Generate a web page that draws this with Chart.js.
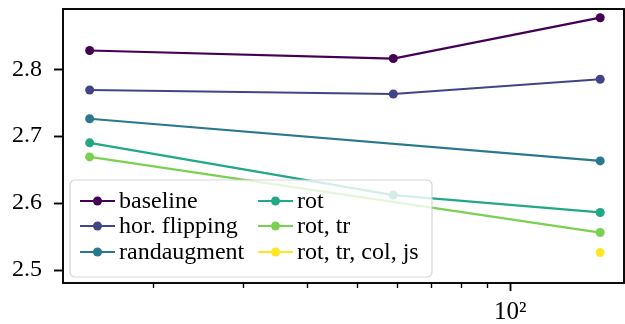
<!DOCTYPE html>
<html>
<head>
<meta charset="utf-8">
<script src="https://cdn.jsdelivr.net/npm/chart.js@4/dist/chart.umd.min.js"></script>
<style>
  html, body { margin: 0; padding: 0; background: #fff; }
  #wrap { width: 625px; height: 324px; }
</style>
</head>
<body>
<div id="wrap"><canvas id="chart" width="625" height="324"></canvas></div>
<script>
// data
const xValues = [15, 59, 150];
const baseline = [2.828, 2.816, 2.877];
const horFlipping = [2.769, 2.763, 2.785];
const randaugment = [2.726, null, 2.663];
const rot = [2.690, 2.612, 2.586];
const rotTr = [2.669, null, 2.556];
const rotTrColJs = [null, null, 2.526];

const labels = ['baseline', 'hor. flipping', 'randaugment', 'rot', 'rot, tr', 'rot, tr, col, js'];
const colors = ['#440154', '#414487', '#2a788e', '#22a884', '#7ad151', '#fde725'];
const series = [baseline, horFlipping, randaugment, rot, rotTr, rotTrColJs];

const yTicks = [2.5, 2.6, 2.7, 2.8];
const xMajorTicks = [100];
const xMinorTicks = [20, 30, 40, 50, 60, 70, 80, 90];

const FONT = '"Liberation Serif", "Times New Roman", serif';

function toPoints(ys) {
    const pts = [];
    ys.forEach((y, i) => {
        if (y !== null) pts.push({ x: xValues[i], y: y });
    });
    return pts;
}

const datasets = series.map((s, i) => ({
    label: labels[i],
    data: toPoints(s),
    borderColor: colors[i],
    backgroundColor: colors[i],
    borderWidth: 2.2,
    pointRadius: 4.5,
    pointHoverRadius: 4.5,
    pointBorderWidth: 0,
    fill: false,
    tension: 0
}));

// frame, minor ticks and the in-axes legend
const decor = {
    id: 'decor',
    afterDatasetsDraw(chart) {
        const ctx = chart.ctx;
        const a = chart.chartArea;

        // legend box
        const bx = a.left + 7, by = a.bottom - 103, bw = 362, bh = 97;
        ctx.save();
        ctx.beginPath();
        ctx.roundRect(bx, by, bw, bh, 5);
        ctx.fillStyle = 'rgba(255,255,255,0.8)';
        ctx.fill();
        ctx.strokeStyle = 'rgba(204,204,204,0.8)';
        ctx.lineWidth = 1.2;
        ctx.stroke();

        ctx.font = '24px ' + FONT;
        ctx.textBaseline = 'alphabetic';
        ctx.textAlign = 'left';
        const rowY = [by + 21, by + 46, by + 72];
        const colX = [bx + 10, bx + 188];
        labels.forEach((lab, i) => {
            const c = Math.floor(i / 3), r = i % 3;
            const hx = colX[c], hy = rowY[r];
            ctx.strokeStyle = colors[i];
            ctx.lineWidth = 2.2;
            ctx.beginPath();
            ctx.moveTo(hx, hy);
            ctx.lineTo(hx + 35, hy);
            ctx.stroke();
            ctx.fillStyle = colors[i];
            ctx.beginPath();
            ctx.arc(hx + 17.5, hy, 4.5, 0, Math.PI * 2);
            ctx.fill();
            ctx.fillStyle = '#000';
            ctx.fillText(lab, hx + 39, hy + 7);
        });
        ctx.restore();
    },
    afterDraw(chart) {
        const ctx = chart.ctx;
        const a = chart.chartArea;
        const xs = chart.scales.x;
        ctx.save();
        ctx.strokeStyle = '#000';
        ctx.lineWidth = 1.4;
        xMinorTicks.forEach(v => {
            const px = Math.round(xs.getPixelForValue(v)) + 0.5;
            ctx.beginPath();
            ctx.moveTo(px, a.bottom);
            ctx.lineTo(px, a.bottom + 5);
            ctx.stroke();
        });
        ctx.lineWidth = 1.9;
        ctx.strokeRect(a.left, a.top, a.right - a.left, a.bottom - a.top);
        ctx.restore();
    }
};

new Chart(document.getElementById('chart'), {
    type: 'line',
    data: { datasets: datasets },
    plugins: [decor],
    options: {
        responsive: false,
        animation: false,
        spanGaps: true,
        layout: { autoPadding: false, padding: { top: 9, right: 1, left: 0, bottom: 0 } },
        plugins: {
            legend: { display: false },
            tooltip: { enabled: false }
        },
        scales: {
            x: {
                type: 'logarithmic',
                min: 13.3,
                max: 167,
                afterFit: s => {
                    s.height = 41;
                    s.paddingLeft = 0;
                    s.paddingRight = 0;
                },
                afterBuildTicks: s => { s.ticks = xMajorTicks.map(v => ({ value: v })); },
                border: { display: false },
                grid: {
                    drawOnChartArea: false,
                    tickLength: 8,
                    tickWidth: 1.9,
                    tickColor: '#000'
                },
                ticks: {
                    autoSkip: false,
                    maxRotation: 0,
                    padding: 6,
                    color: '#000',
                    font: { family: FONT, size: 25 },
                    callback: v => (v === 100 ? '10²' : '')
                }
            },
            y: {
                type: 'linear',
                min: 2.4806,
                max: 2.890,
                afterFit: s => {
                    s.width = 63;
                    s.paddingTop = 0;
                    s.paddingBottom = 0;
                },
                afterBuildTicks: s => { s.ticks = yTicks.map(v => ({ value: v })); },
                border: { display: false },
                grid: {
                    drawOnChartArea: false,
                    tickLength: 9,
                    tickWidth: 1.9,
                    tickColor: '#000'
                },
                ticks: {
                    padding: 12,
                    color: '#000',
                    font: { family: FONT, size: 24 },
                    callback: v => v.toFixed(1)
                }
            }
        }
    }
});
</script>
</body>
</html>
